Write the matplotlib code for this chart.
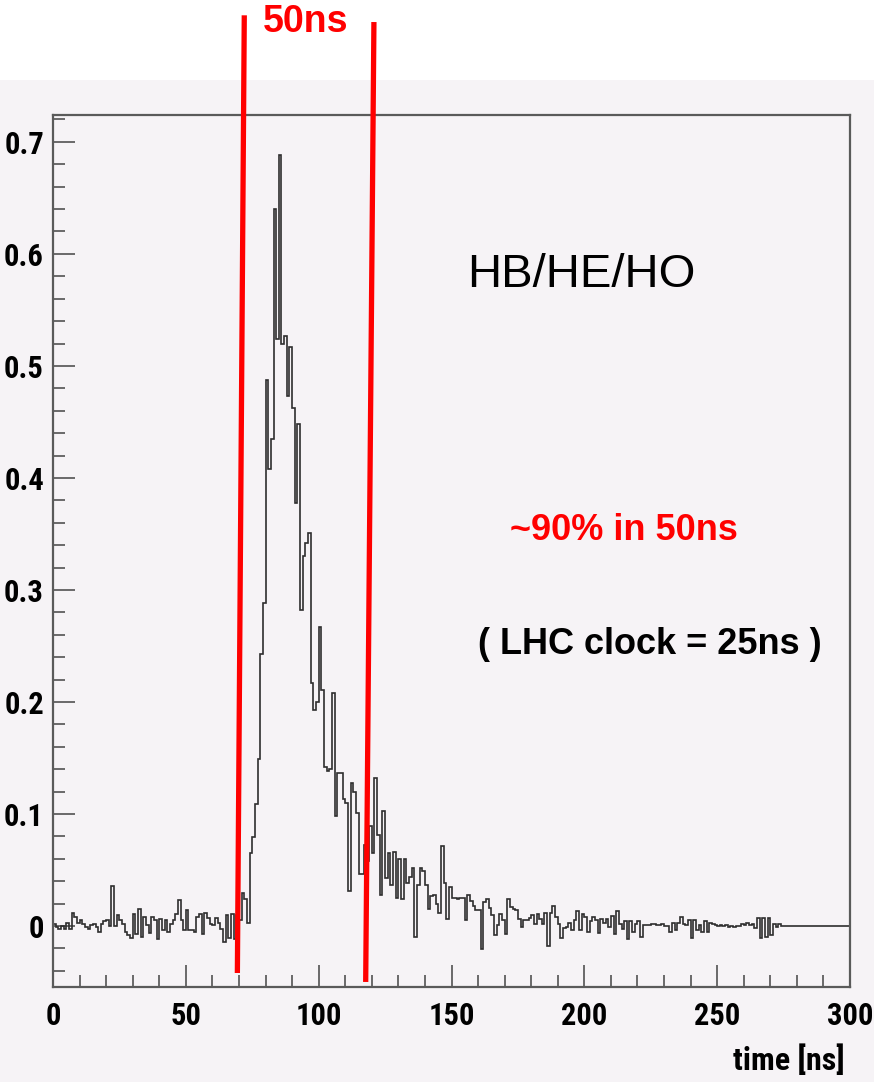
"""
HCAL pulse shape (HB/HE/HO) - time distribution with 50 ns window
"""

import matplotlib
matplotlib.use("Agg")
import matplotlib.pyplot as plt
from matplotlib.patches import Rectangle
from matplotlib.ticker import MultipleLocator, FuncFormatter

# =========================================================
# Data (1 ns bins, 0-300 ns)
# =========================================================
BIN_WIDTH = 1.0
X_MAX = 300

# bins 0-70 : pedestal region
baseline = [0.002, -0.001, -0.003, 0.000, -0.003, 0.003, -0.003, 0.012, 0.008, 0.003,
            0.005, 0.002, -0.001, -0.003, 0.001, 0.002, -0.001, -0.005, 0.002, 0.004,
            0.005, 0.000, 0.036, 0.000, 0.010, 0.005, 0.002, -0.005, -0.008, -0.011,
            0.011, -0.007, 0.015, -0.010, 0.008, 0.001, -0.006, 0.008, 0.005, -0.012,
            0.006, -0.004, 0.005, -0.005, 0.002, 0.005, 0.011, 0.023, 0.005, -0.004,
            0.014, -0.004, -0.004, -0.005, 0.008, 0.011, -0.007, 0.012, 0.007, 0.002,
            0.001, 0.007, 0.003, -0.003, -0.014, 0.010, -0.011, 0.011, -0.012, 0.010,
            0.005]

# bins 71-99 : rising edge and peak
rise_peak = [0.029, 0.024, 0.003, 0.065, 0.079, 0.109, 0.149, 0.243, 0.288,
             0.487, 0.408, 0.435, 0.640, 0.524, 0.688, 0.520, 0.527, 0.473, 0.517,
             0.462, 0.378, 0.448, 0.282, 0.330, 0.342, 0.351, 0.217, 0.193, 0.200]

# bins 100-149 : decay
decay = [0.267, 0.211, 0.142, 0.138, 0.140, 0.208, 0.098, 0.137, 0.137, 0.113,
         0.110, 0.031, 0.128, 0.120, 0.101, 0.046, 0.046, 0.072, 0.058, 0.089,
         0.065, 0.132, 0.081, 0.028, 0.103, 0.043, 0.065, 0.037, 0.066, 0.025,
         0.060, 0.024, 0.060, 0.038, 0.044, 0.052, -0.010, 0.037, 0.052, 0.049,
         0.037, 0.015, 0.027, 0.028, 0.020, 0.012, 0.071, 0.038, 0.006, 0.035]

# bins 150-224 : tail
tail = [0.025, 0.025, 0.024, 0.025, 0.025, 0.005, 0.028, 0.022, 0.018, 0.014,
        0.014, -0.021, 0.021, 0.024, 0.016, 0.010, -0.008, 0.001, 0.011, 0.005,
        -0.007, 0.024, 0.017, 0.015, 0.014, 0.006, -0.001, 0.005, 0.005, 0.007,
        0.010, 0.002, 0.011, 0.006, 0.002, 0.012, -0.018, 0.012, 0.018, 0.008,
        0.002, -0.011, -0.002, -0.001, 0.003, -0.004, 0.005, 0.013, -0.004, 0.011,
        0.008, -0.005, 0.004, 0.008, 0.005, -0.006, 0.006, 0.003, 0.006, -0.001,
        0.009, -0.007, 0.013, 0.002, -0.003, 0.004, -0.012, 0.004, -0.005, 0.002,
        0.004, -0.010, 0.001, 0.001, 0.001]

# bins 225-274 : far tail
far_tail = [0.002, 0.002, 0.001, 0.001, 0.002, 0.000, 0.000, -0.005, 0.003, -0.004,
            0.003, 0.008, 0.002, 0.001, 0.005, -0.011, 0.005, -0.004, 0.001, -0.005,
            0.004, -0.005, 0.003, 0.002, 0.001, 0.000, 0.001, 0.000, 0.001, -0.001,
            0.000, -0.001, 0.000, 0.000, 0.002, 0.001, 0.003, 0.001, 0.002, -0.002,
            0.007, -0.011, 0.007, -0.010, 0.007, -0.008, 0.002, -0.001, 0.002, 0.000]

# bins 275-299 : empty
empty = [0.0] * 25

values = baseline + rise_peak + decay + tail + far_tail + empty
edges = [i * BIN_WIDTH for i in range(len(values) + 1)]

# 50 ns integration window (hand-drawn red lines, slightly tilted)
win_left_x = [69.4, 72.0]
win_left_y = [-0.042, 0.813]
win_right_x = [117.7, 120.8]
win_right_y = [-0.050, 0.807]

Y_MIN, Y_MAX = -0.0545, 0.724

# =========================================================
# Style
# =========================================================
BG = "#f6f3f6"
AXCOL = "#5a5a5a"
NARROW = ["Liberation Sans Narrow", "Roboto Condensed", "Liberation Sans", "DejaVu Sans"]
SANS = ["Liberation Sans", "DejaVu Sans"]

W, H = 874, 1082
fig = plt.figure(figsize=(W / 100, H / 100), dpi=100, facecolor="white")

# shaded canvas under the white title strip
fig.patches.append(Rectangle((0, 0), 1, 1 - 80 / H, transform=fig.transFigure,
                             facecolor=BG, edgecolor="none", zorder=0))

ax = fig.add_axes([53 / W, (H - 987) / H, (850 - 53) / W, (987 - 115) / H])
ax.set_zorder(2)
ax.set_facecolor(BG)

ax.stairs(values, edges, baseline=None, color="#2e2e2e", linewidth=1.2, zorder=2)

ax.set_xlim(0, X_MAX)
ax.set_ylim(Y_MIN, Y_MAX)

# ROOT-like ticks
ax.xaxis.set_major_locator(MultipleLocator(50))
ax.xaxis.set_minor_locator(MultipleLocator(10))
ax.yaxis.set_major_locator(MultipleLocator(0.1))
ax.yaxis.set_minor_locator(MultipleLocator(0.02))
ax.yaxis.set_major_formatter(FuncFormatter(lambda v, p: "0" if abs(v) < 1e-9 else f"{v:.1f}"))
ax.xaxis.set_major_formatter(FuncFormatter(lambda v, p: f"{v:.0f}"))

ax.tick_params(which="both", direction="in", top=False, right=False,
               color="#444444", width=1.1)
ax.tick_params(which="major", length=16)
ax.tick_params(which="minor", length=8.5)
ax.tick_params(axis="y", which="major", pad=6.5)
ax.tick_params(axis="x", which="major", pad=10)

for lab in ax.get_xticklabels() + ax.get_yticklabels():
    lab.set_fontfamily(NARROW)
    lab.set_fontweight("bold")
    lab.set_fontsize(22)
    lab.set_color("black")

for sp in ax.spines.values():
    sp.set_color(AXCOL)
    sp.set_linewidth(1.6)

# red window lines (reach above the frame)
for lx, ly in [(win_left_x, win_left_y), (win_right_x, win_right_y)]:
    ax.plot(lx, ly, color="#ff0000", linewidth=3.8, solid_capstyle="butt",
            clip_on=False, zorder=5)

# =========================================================
# Text
# =========================================================
fig.text(306 / W, 1 - 22 / H, "50ns", color="#ff0000", fontsize=27,
         fontweight="bold", family=SANS, ha="center", va="center", zorder=6)
fig.text(581 / W, 1 - 275 / H, "HB/HE/HO", color="black", fontsize=34,
         family=SANS, ha="center", va="center", zorder=6)
fig.text(624 / W, 1 - 531 / H, "~90% in 50ns", color="#ff0000", fontsize=26,
         fontweight="bold", family=SANS, ha="center", va="center", zorder=6)
fig.text(650 / W, 1 - 645 / H, "( LHC clock = 25ns )", color="black", fontsize=26,
         fontweight="bold", family=SANS, ha="center", va="center", zorder=6)
fig.text(845 / W, 1 - 1060 / H, "time [ns]", color="black", fontsize=23,
         fontweight="bold", family=NARROW, ha="right", va="center", zorder=6)

fig.savefig("out.png", dpi=100, facecolor="white")
plt.close(fig)
